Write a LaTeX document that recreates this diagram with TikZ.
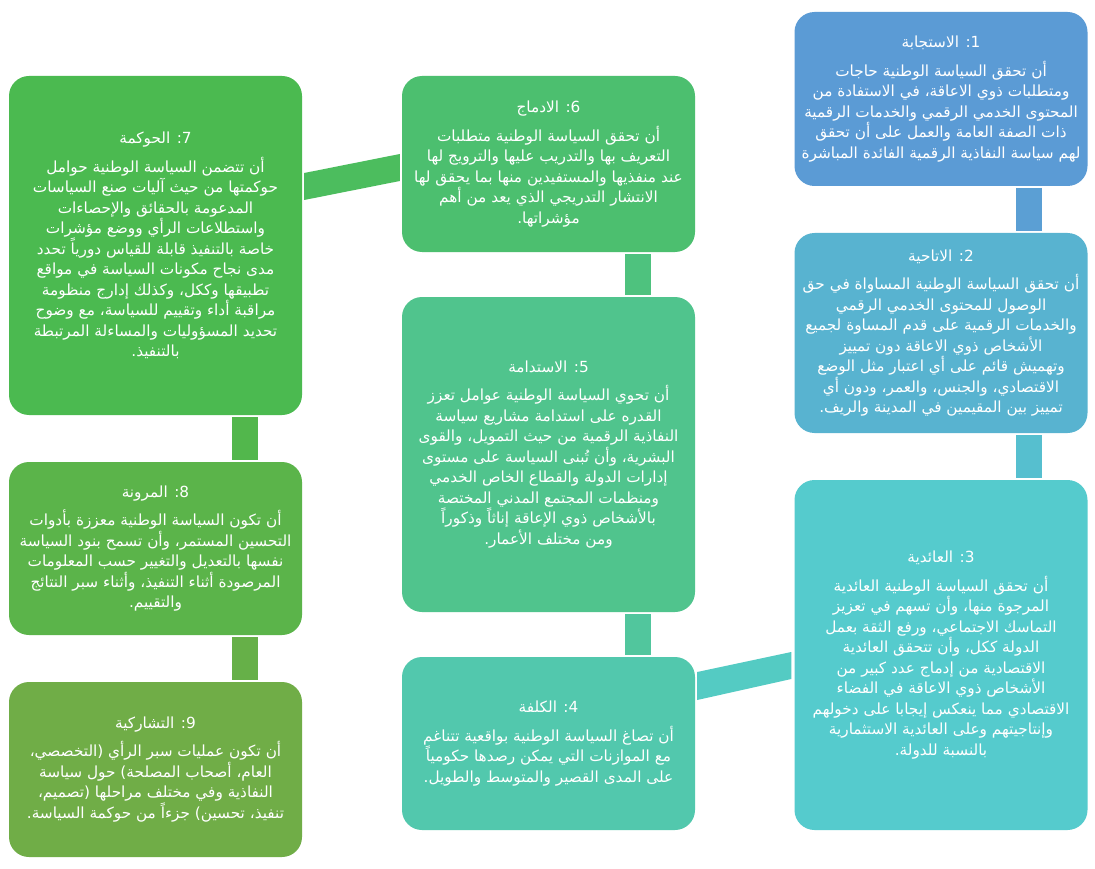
\documentclass[tikz,border=0pt]{standalone}
\usepackage{fontspec}
\newfontfamily\arabicfont[Script=Arabic]{DejaVu Sans}
\TeXXeTstate=1
\newcommand{\rline}[1]{\beginR #1\endR}
\definecolor{c1}{HTML}{5B9BD5}
\definecolor{c2}{HTML}{58B3D0}
\definecolor{c3}{HTML}{55CBCD}
\definecolor{c4}{HTML}{52C8AD}
\definecolor{c5}{HTML}{50C48D}
\definecolor{c6}{HTML}{4CBF6F}
\definecolor{c7}{HTML}{4BBA50}
\definecolor{c8}{HTML}{5BB44A}
\definecolor{c9}{HTML}{70AD47}
\definecolor{k12}{HTML}{5B9FD4}
\definecolor{k23}{HTML}{56BFCF}
\definecolor{k34}{HTML}{54CBC3}
\definecolor{k45}{HTML}{51C69D}
\definecolor{k56}{HTML}{4EC27E}
\definecolor{k67}{HTML}{4CBD5E}
\definecolor{k78}{HTML}{52B74C}
\definecolor{k89}{HTML}{66B048}
\begin{document}
\begin{tikzpicture}[x=1pt, y=-1pt]
\tikzset{principe/.style={rectangle, rounded corners=20pt, text=white, align=center, inner sep=0pt, minimum width=293pt, font=\arabicfont\fontsize{15.3}{20.5}\selectfont},
  barre/.style={line width=26pt, shorten <=2pt, shorten >=2pt}}
\useasboundingbox[fill=white] (0,0) rectangle (1095,869);
% colonne droite
\node[principe, fill=c1, minimum height=174pt] (P1) at (941,99) {\rline{1: الاستجابة}\\[8pt]
\rline{أن تحقق السياسة الوطنية حاجات}\\
\rline{ومتطلبات ذوي الاعاقة، في الاستفادة من}\\
\rline{المحتوى الخدمي الرقمي والخدمات الرقمية}\\
\rline{ذات الصفة العامة والعمل على أن تحقق}\\
\rline{لهم سياسة النفاذية الرقمية الفائدة المباشرة}};
\node[principe, fill=c2, minimum height=200pt] (P2) at (941,333) {\rline{2: الاتاحية}\\[8pt]
\rline{أن تحقق السياسة الوطنية المساواة في حق}\\
\rline{الوصول للمحتوى الخدمي الرقمي}\\
\rline{والخدمات الرقمية على قدم المساوة لجميع}\\
\rline{الأشخاص ذوي الاعاقة دون تمييز}\\
\rline{وتهميش قائم على أي اعتبار مثل الوضع}\\
\rline{الاقتصادي، والجنس، والعمر، ودون أي}\\
\rline{تمييز بين المقيمين في المدينة والريف.}};
\node[principe, fill=c3, minimum height=350pt] (P3) at (941,655) {\rline{3: العائدية}\\[8pt]
\rline{أن تحقق السياسة الوطنية العائدية}\\
\rline{المرجوة منها، وأن تسهم في تعزيز}\\
\rline{التماسك الاجتماعي، ورفع الثقة بعمل}\\
\rline{الدولة ككل، وأن تتحقق العائدية}\\
\rline{الاقتصادية من إدماج عدد كبير من}\\
\rline{الأشخاص ذوي الاعاقة في الفضاء}\\
\rline{الاقتصادي مما ينعكس إيجابا على دخولهم}\\
\rline{وإنتاجيتهم وعلى العائدية الاستثمارية}\\
\rline{بالنسبة للدولة.}};
% colonne du milieu
\node[principe, fill=c4, minimum height=173pt] (P4) at (548.5,743.5) {\rline{4: الكلفة}\\[8pt]
\rline{أن تصاغ السياسة الوطنية بواقعية تتناغم}\\
\rline{مع الموازنات التي يمكن رصدها حكومياً}\\
\rline{على المدى القصير والمتوسط والطويل.}};
\node[principe, fill=c5, minimum height=315pt] (P5) at (548.5,454.5) {\rline{5: الاستدامة}\\[8pt]
\rline{أن تحوي السياسة الوطنية عوامل تعزز}\\
\rline{القدره على استدامة مشاريع سياسة}\\
\rline{النفاذية الرقمية من حيث التمويل، والقوى}\\
\rline{البشرية، وأن تُبنى السياسة على مستوى}\\
\rline{إدارات الدولة والقطاع الخاص الخدمي}\\
\rline{ومنظمات المجتمع المدني المختصة}\\
\rline{بالأشخاص ذوي الإعاقة إناثاً وذكوراً}\\
\rline{ومن مختلف الأعمار.}};
\node[principe, fill=c6, minimum height=176pt] (P6) at (548.5,164) {\rline{6: الادماج}\\[8pt]
\rline{أن تحقق السياسة الوطنية متطلبات}\\
\rline{التعريف بها والتدريب عليها والترويج لها}\\
\rline{عند منفذيها والمستفيدين منها بما يحقق لها}\\
\rline{الانتشار التدريجي الذي يعد من أهم}\\
\rline{مؤشراتها.}};
% colonne gauche
\node[principe, fill=c7, minimum height=339pt] (P7) at (155.5,245.5) {\rline{7: الحوكمة}\\[8pt]
\rline{أن تتضمن السياسة الوطنية حوامل}\\
\rline{حوكمتها من حيث آليات صنع السياسات}\\
\rline{المدعومة بالحقائق والإحصاءات}\\
\rline{واستطلاعات الرأي ووضع مؤشرات}\\
\rline{خاصة بالتنفيذ قابلة للقياس دورياً تحدد}\\
\rline{مدى نجاح مكونات السياسة في مواقع}\\
\rline{تطبيقها وككل، وكذلك إدارج منظومة}\\
\rline{مراقبة أداء وتقييم للسياسة، مع وضوح}\\
\rline{تحديد المسؤوليات والمساءلة المرتبطة}\\
\rline{بالتنفيذ.}};
\node[principe, fill=c8, minimum height=173pt] (P8) at (155.5,548.5) {\rline{8: المرونة}\\[8pt]
\rline{أن تكون السياسة الوطنية معززة بأدوات}\\
\rline{التحسين المستمر، وأن تسمح بنود السياسة}\\
\rline{نفسها بالتعديل والتغيير حسب المعلومات}\\
\rline{المرصودة أثناء التنفيذ، وأثناء سبر النتائج}\\
\rline{والتقييم.}};
\node[principe, fill=c9, minimum height=175pt] (P9) at (155.5,769.5) {\rline{9: التشاركية}\\[8pt]
\rline{أن تكون عمليات سبر الرأي (التخصصي،}\\
\rline{العام، أصحاب المصلحة) حول سياسة}\\
\rline{النفاذية وفي مختلف مراحلها (تصميم،}\\
\rline{تنفيذ، تحسين) جزءاً من حوكمة السياسة.}};
% liaisons
\draw[barre, k12] ([xshift=88pt]P1.south) -- ([xshift=88pt]P2.north);
\draw[barre, k23] ([xshift=88pt]P2.south) -- ([xshift=88pt]P3.north);
\fill[k34] ([xshift=2pt,yshift=71.5pt]P4.east) -- ([xshift=2pt,yshift=43.5pt]P4.east) -- ([xshift=-3pt,yshift=-24pt]P3.west) -- ([xshift=-3pt,yshift=3pt]P3.west) -- cycle;
\draw[barre, k45] ([xshift=89pt]P4.north) -- ([xshift=89pt]P5.south);
\draw[barre, k56] ([xshift=89pt]P5.north) -- ([xshift=89pt]P6.south);
\fill[k67] ([xshift=2pt,yshift=72.5pt]P7.east) -- ([xshift=2pt,yshift=45.5pt]P7.east) -- ([xshift=-2pt,yshift=-17pt]P6.west) -- ([xshift=-2pt,yshift=10pt]P6.west) -- cycle;
\draw[barre, k78] ([xshift=89pt]P7.south) -- ([xshift=89pt]P8.north);
\draw[barre, k89] ([xshift=89pt]P8.south) -- ([xshift=89pt]P9.north);
\end{tikzpicture}
\end{document}
